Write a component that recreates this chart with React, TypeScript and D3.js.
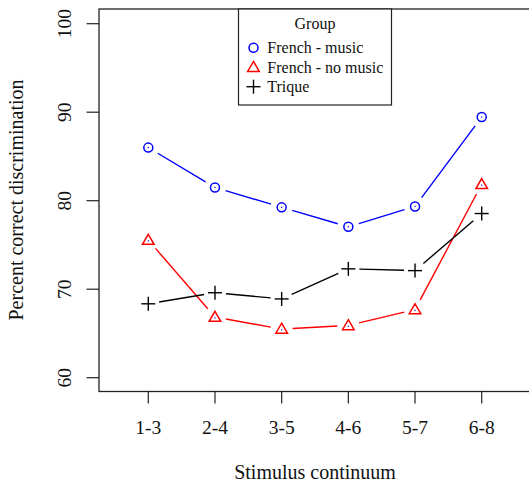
import React from "react";
import * as d3 from "d3";

const categories = ["1-3", "2-4", "3-5", "4-6", "5-7", "6-8"];
const frenchMusic = [86.0, 81.5, 79.25, 77.05, 79.35, 89.45];
const frenchNoMusic = [75.55, 66.85, 65.5, 65.9, 67.7, 81.85];
const trique = [68.35, 69.6, 68.9, 72.3, 72.1, 78.55];
const yTicks = [60, 70, 80, 90, 100];
const seriesNames = ["French - music", "French - no music", "Trique"];

const W = 529, H = 483;
const FONT = '"Liberation Serif"';

export default function App() {
  const x = d3.scalePoint<string>().domain(categories).range([148.3, 481.7]);
  const y = d3.scaleLinear().domain([60, 100]).range([377.7, 23.7]);
  const left = 99, top = 9, bottom = 391.5, right = 535;

  const series = [
    { name: seriesNames[0], values: frenchMusic, color: "#0000ff", shape: "circle" },
    { name: seriesNames[1], values: frenchNoMusic, color: "#ff0000", shape: "triangle" },
    { name: seriesNames[2], values: trique, color: "#000000", shape: "plus" },
  ];

  const gap = 11;
  const marker = (shape: string, cx: number, cy: number, color: string, key: string, dot = true) => {
    if (shape === "circle") {
      return (
        <g key={key}>
          <circle cx={cx} cy={cy} r={4.5} fill="none" stroke={color} strokeWidth={1.5} />
          {dot && <rect x={cx - 0.6} y={cy - 0.6} width={1.2} height={1.2} fill={color} />}
        </g>
      );
    }
    if (shape === "triangle") {
      const s = 5.8;
      const p = `${cx},${cy - s} ${cx + s},${cy + s * 0.72} ${cx - s},${cy + s * 0.72}`;
      return (
        <g key={key}>
          <polygon points={p} fill="none" stroke={color} strokeWidth={1.5} />
          {dot && <rect x={cx - 0.6} y={cy + 0.2} width={1.2} height={1.2} fill="#0000ff" />}
        </g>
      );
    }
    const s = 7;
    return (
      <g key={key} stroke={color} strokeWidth={1.4}>
        <line x1={cx - s} y1={cy} x2={cx + s} y2={cy} />
        <line x1={cx} y1={cy - s} x2={cx} y2={cy + s} />
      </g>
    );
  };

  const ts = { fontFamily: FONT };

  return (
    <svg width={W} height={H} style={{ position: "absolute", left: 0, top: 0 }}>
      <rect width={W} height={H} fill="#fff" />
      <rect x={left} y={top} width={right - left} height={bottom - top} fill="none" stroke="#222" strokeWidth={1.3} />
      {yTicks.map((t) => (
        <g key={t}>
          <line x1={86.5} x2={left} y1={y(t)} y2={y(t)} stroke="#222" strokeWidth={1.2} />
          <text
            transform={`translate(${70.5},${y(t)}) rotate(-90)`}
            textAnchor="middle"
            fontSize={19.5}
            fill="#111"
            style={ts}
          >
            {t}
          </text>
        </g>
      ))}
      {categories.map((c) => (
        <g key={c}>
          <line x1={x(c)!} x2={x(c)!} y1={bottom} y2={403.5} stroke="#222" strokeWidth={1.2} />
          <text x={x(c)!} y={434} textAnchor="middle" fontSize={19.5} fill="#111" style={ts}>
            {c}
          </text>
        </g>
      ))}
      <text x={315} y={478.5} textAnchor="middle" fontSize={20} fill="#111" style={ts}>
        Stimulus continuum
      </text>
      <text transform={`translate(23,200) rotate(-90)`} textAnchor="middle" fontSize={20} fill="#111" style={ts}>
        Percent correct discrimination
      </text>
      {series.map((s) => {
        const pts = s.values.map((v, i) => [x(categories[i])!, y(v)] as [number, number]);
        return (
          <g key={s.name}>
            {pts.slice(0, -1).map((p, i) => {
              const q = pts[i + 1];
              const dx = q[0] - p[0], dy = q[1] - p[1];
              const L = Math.hypot(dx, dy);
              if (L <= 2 * gap) return null;
              const ux = dx / L, uy = dy / L;
              return (
                <line
                  key={i}
                  x1={p[0] + ux * gap}
                  y1={p[1] + uy * gap}
                  x2={q[0] - ux * gap}
                  y2={q[1] - uy * gap}
                  stroke={s.color}
                  strokeWidth={1.4}
                />
              );
            })}
            {pts.map((p, i) => marker(s.shape, p[0], p[1], s.color, `${s.name}-${i}`))}
          </g>
        );
      })}
      <rect x={238.5} y={top} width={153} height={96} fill="#fff" stroke="#222" strokeWidth={1.2} />
      <text x={315} y={29} textAnchor="middle" fontSize={16} fill="#111" style={ts}>
        Group
      </text>
      {series.map((s, i) => {
        const ly = 47.7 + i * 19.5;
        return (
          <g key={s.name}>
            {marker(s.shape, 253.5, ly, s.color, `leg-${i}`, false)}
            <text x={267.3} y={ly + 5.5} fontSize={16} fill="#111" style={ts}>
              {s.name}
            </text>
          </g>
        );
      })}
    </svg>
  );
}
